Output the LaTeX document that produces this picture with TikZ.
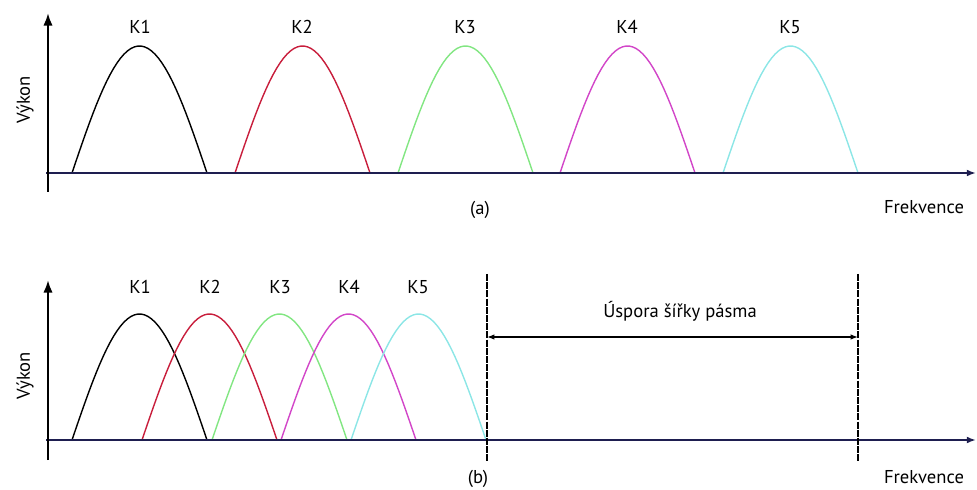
\documentclass[tikz,border=0pt]{standalone}
\usepackage{fontspec}
\setmainfont{PT Sans}
\usetikzlibrary{arrows.meta}
\usetikzlibrary{positioning}
\definecolor{AxisNavy}{RGB}{30,30,80}
\definecolor{ChRed}{RGB}{200,30,60}
\definecolor{ChGreen}{RGB}{130,230,130}
\definecolor{ChMagenta}{RGB}{210,70,200}
\definecolor{ChCyan}{RGB}{140,230,230}
\tikzset{
	yax/.style={-{Latex[length=2.2mm]}, line width=1.2pt, draw=black},
	xax/.style={-{Latex[length=1.6mm]}, line width=0.9pt, draw=AxisNavy},
	chan/.style={line width=0.7pt},
	lab/.style={font=\fontsize{9.3}{11}\selectfont, inner sep=1pt},
	cut/.style={line width=1.3pt, draw=black, dash pattern=on 3.5pt off 0.6pt},
	span/.style={{Latex[length=1.3mm]}-{Latex[length=1.3mm]}, line width=1.3pt, draw=black}
}

\begin{document}
\begin{tikzpicture}[x=0.5pt, y=-0.5pt]
		\useasboundingbox (0,0) rectangle (977,490);
		% (a) channels with guard bands
		\coordinate (ya0) at (48,192);
		\coordinate (ya1) at (48,13);
		\coordinate (xa0) at (46,173);
		\coordinate (xa1) at (976,173);
		\draw[chan, black] plot[domain=72:207, samples=40] (\x,{173-127*sin((\x-72)/0.75)});
		\draw[chan, ChRed] plot[domain=235:370, samples=40] (\x,{173-127*sin((\x-235)/0.75)});
		\draw[chan, ChGreen] plot[domain=398:533, samples=40] (\x,{173-127*sin((\x-398)/0.75)});
		\draw[chan, ChMagenta] plot[domain=560:695, samples=40] (\x,{173-127*sin((\x-560)/0.75)});
		\draw[chan, ChCyan] plot[domain=723:858, samples=40] (\x,{173-127*sin((\x-723)/0.75)});
		\draw[xax] (xa0) -- (xa1);
		\draw[yax] (ya0) -- (ya1);
		\node[lab] (ka1) at (140,27) {K1};
		\node[lab] (ka2) at (302,27) {K2};
		\node[lab] (ka3) at (465,27) {K3};
		\node[lab] (ka4) at (627,27) {K4};
		\node[lab] (ka5) at (790,27) {K5};
		\node[lab, rotate=90] (pwa) at (25,100) {Výkon};
		\node[lab] (fqa) at (924,207) {Frekvence};
		\node[lab] (capa) at (480,210) {(a)};
		% (b) overlapping channels
		\coordinate (yb0) at (48,460);
		\coordinate (yb1) at (48,280);
		\coordinate (xb0) at (46,440);
		\coordinate (xb1) at (976,440);
		\draw[chan, black] plot[domain=72:207, samples=40] (\x,{440-126*sin((\x-72)/0.75)});
		\draw[chan, ChRed] plot[domain=142:277, samples=40] (\x,{440-126*sin((\x-142)/0.75)});
		\draw[chan, ChGreen] plot[domain=212:347, samples=40] (\x,{440-126*sin((\x-212)/0.75)});
		\draw[chan, ChMagenta] plot[domain=281:416, samples=40] (\x,{440-126*sin((\x-281)/0.75)});
		\draw[chan, ChCyan] plot[domain=351:486, samples=40] (\x,{440-126*sin((\x-351)/0.75)});
		\draw[xax] (xb0) -- (xb1);
		\draw[yax] (yb0) -- (yb1);
		\node[lab] (kb1) at (140,287) {K1};
		\node[lab] (kb2) at (210,287) {K2};
		\node[lab] (kb3) at (280,287) {K3};
		\node[lab] (kb4) at (349,287) {K4};
		\node[lab] (kb5) at (418,287) {K5};
		\node[lab, rotate=90] (pwb) at (25,376) {Výkon};
		\node[lab] (fqb) at (924,477) {Frekvence};
		\node[lab] (capb) at (478,479) {(b)};
		\coordinate (cl0) at (487,274);
		\coordinate (cl1) at (487,461);
		\coordinate (cr0) at (858,274);
		\coordinate (cr1) at (858,461);
		\draw[cut] (cl0) -- (cl1);
		\draw[cut] (cr0) -- (cr1);
		\coordinate (sl) at (487,337);
		\coordinate (sr) at (858,337);
		\draw[span] (sl) -- (sr);
		\node[lab] (save) at (680,311) {Úspora šířky pásma};
	\end{tikzpicture}
\end{document}
